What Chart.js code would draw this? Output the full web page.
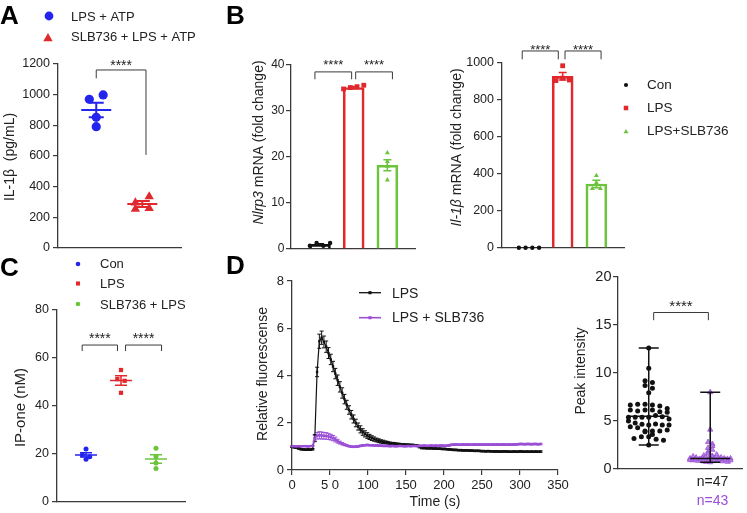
<!DOCTYPE html>
<html>
<head>
<meta charset="utf-8">
<title>SLB736 figure</title>
<script src="https://cdn.jsdelivr.net/npm/chart.js@4.4.1/dist/chart.umd.min.js"></script>
<style>
  html, body { margin: 0; padding: 0; background: #fff; }
  #fig { position: relative; width: 747px; height: 513px; overflow: hidden; background: #fff; }
  #fig canvas { position: absolute; left: 0; top: 0; }
  .tag { position: absolute; font: bold 26px/26px 'Liberation Sans', Arial, sans-serif; color: #000; }
</style>
</head>
<body>
<div id="fig">
  <canvas id="chartA" width="747" height="513"></canvas>
  <canvas id="chartB1" width="747" height="513"></canvas>
  <canvas id="chartB2" width="747" height="513"></canvas>
  <canvas id="chartC" width="747" height="513"></canvas>
  <canvas id="chartD1" width="747" height="513"></canvas>
  <canvas id="chartD2" width="747" height="513"></canvas>
  <div class="tag" style="left:0px;top:1.5px">A</div>
  <div class="tag" style="left:226px;top:1.5px">B</div>
  <div class="tag" style="left:0px;top:253.5px">C</div>
  <div class="tag" style="left:226px;top:251.5px">D</div>
</div>
<script>
// ---- A: IL-1β release (pg/mL)
const aGroups = ['LPS + ATP', 'SLB736 + LPS + ATP'];
const aLpsAtp = [970, 998, 852, 791];
const aSlbLpsAtp = [254, 295, 335, 259];
const aMean = [900, 287];
const aSem = [48, 19];

// ---- B: mRNA fold change
const bGroups = ['Con', 'LPS', 'LPS+SLB736'];
const nlrp3Con = [0.7, 1.3, 0.7, 1.3];
const nlrp3Lps = [34.8, 35.1, 35.3, 35.6];
const nlrp3Slb = [20.9, 19.0, 18.0, 15.0];
const nlrp3Mean = [1.0, 35.1, 18.2];
const nlrp3Sem = [0.15, 0.2, 1.2];
const il1bCon = [1, 1, 1, 1];
const il1bLps = [985, 905, 918, 908];
const il1bSlb = [391, 353, 321, 321];
const il1bMean = [1, 928, 346];
const il1bSem = [0, 20, 20];

// ---- C: IP-one (nM)
const cGroups = ['Con', 'LPS', 'SLB736 + LPS'];
const ipCon = [22.1, 19.6, 18.9, 17.8];
const ipLps = [55.0, 51.2, 50.5, 45.5];
const ipSlb = [22.4, 19.0, 16.3, 14.0];
const ipMean = [19.6, 50.6, 17.9];
const ipSem = [0.9, 2.0, 1.8];

// ---- D: calcium trace and peak intensity
const dSeries = ['LPS', 'LPS + SLB736'];
const dTime = [0, 3, 6, 9, 12, 15, 18, 21, 24, 27,
  30, 33, 36, 39, 42, 45, 48, 51, 54, 57,
  60, 63, 66, 69, 72, 75, 78, 81, 84, 87,
  90, 93, 96, 99, 102, 105, 108, 111, 114, 117,
  120, 123, 126, 129, 132, 135, 138, 141, 144, 147,
  150, 153, 156, 159, 162, 165, 168, 171, 174, 177,
  180, 183, 186, 189, 192, 195, 198, 201, 204, 207,
  210, 213, 216, 219, 222, 225, 228, 231, 234, 237,
  240, 243, 246, 249, 252, 255, 258, 261, 264, 267,
  270, 273, 276, 279, 282, 285, 288, 291, 294, 297,
  300, 303, 306, 309, 312, 315, 318, 321, 324, 327];
const dLps = [0.98, 0.96, 0.94, 0.91, 0.88, 0.87, 0.86, 0.87, 0.86, 0.88,
  1.35, 4.15, 5.45, 5.60, 5.42, 5.22, 4.95, 4.68, 4.38, 4.08,
  3.80, 3.52, 3.26, 3.00, 2.76, 2.54, 2.34, 2.16, 1.99, 1.84,
  1.72, 1.61, 1.53, 1.46, 1.40, 1.35, 1.31, 1.27, 1.24, 1.21,
  1.19, 1.17, 1.15, 1.13, 1.12, 1.11, 1.10, 1.10, 1.09, 1.08,
  1.07, 1.07, 1.06, 1.06, 1.05, 1.03, 0.97, 0.93, 0.93, 0.92,
  0.92, 0.92, 0.91, 0.91, 0.90, 0.90, 0.89, 0.89, 0.88, 0.87,
  0.86, 0.85, 0.85, 0.84, 0.84, 0.83, 0.83, 0.83, 0.82, 0.82,
  0.81, 0.81, 0.81, 0.80, 0.80, 0.79, 0.80, 0.79, 0.79, 0.78,
  0.79, 0.78, 0.78, 0.79, 0.78, 0.78, 0.77, 0.78, 0.78, 0.77,
  0.79, 0.78, 0.77, 0.78, 0.77, 0.78, 0.77, 0.78, 0.77, 0.78];
const dLpsSem = [0.03, 0.03, 0.03, 0.03, 0.03, 0.03, 0.03, 0.03, 0.03, 0.03,
  0.15, 0.20, 0.30, 0.28, 0.25, 0.24, 0.23, 0.22, 0.22, 0.22,
  0.22, 0.22, 0.22, 0.20, 0.19, 0.18, 0.18, 0.17, 0.16, 0.15,
  0.15, 0.14, 0.13, 0.12, 0.11, 0.10, 0.09, 0.08, 0.08, 0.07,
  0.07, 0.06, 0.06, 0.05, 0.05, 0.05, 0.04, 0.03, 0.03, 0.03,
  0.03, 0.03, 0.03, 0.03, 0.03, 0.03, 0.03, 0.03, 0.03, 0.03,
  0.03, 0.03, 0.03, 0.03, 0.03, 0.03, 0.03, 0.03, 0.03, 0.03,
  0.03, 0.03, 0.03, 0.03, 0.03, 0.03, 0.03, 0.03, 0.03, 0.03,
  0.03, 0.03, 0.03, 0.03, 0.03, 0.03, 0.03, 0.03, 0.03, 0.03,
  0.03, 0.03, 0.03, 0.03, 0.03, 0.03, 0.03, 0.03, 0.03, 0.03,
  0.03, 0.03, 0.03, 0.03, 0.03, 0.03, 0.03, 0.03, 0.03, 0.03];
const dSlb = [1.00, 1.01, 1.00, 1.01, 1.00, 1.01, 1.01, 1.00, 1.01, 1.02,
  1.36, 1.45, 1.47, 1.46, 1.45, 1.44, 1.42, 1.39, 1.35, 1.29,
  1.22, 1.16, 1.11, 1.07, 1.04, 1.01, 0.99, 0.98, 0.99, 1.00,
  1.02, 1.04, 1.05, 1.06, 1.05, 1.05, 1.04, 1.04, 1.03, 1.03,
  1.02, 1.02, 1.02, 1.01, 1.02, 1.01, 1.01, 1.02, 1.02, 1.01,
  1.01, 1.02, 1.01, 1.02, 1.02, 1.01, 1.02, 1.02, 1.03, 1.02,
  1.02, 1.03, 1.02, 1.03, 1.02, 1.03, 1.03, 1.02, 1.03, 1.04,
  1.07, 1.07, 1.08, 1.07, 1.07, 1.08, 1.07, 1.08, 1.07, 1.07,
  1.08, 1.07, 1.08, 1.07, 1.08, 1.07, 1.08, 1.07, 1.08, 1.07,
  1.08, 1.07, 1.08, 1.08, 1.07, 1.08, 1.07, 1.08, 1.08, 1.09,
  1.10, 1.10, 1.09, 1.10, 1.10, 1.09, 1.10, 1.10, 1.09, 1.10];
const dSlbSem = [0.02, 0.02, 0.02, 0.02, 0.02, 0.02, 0.02, 0.02, 0.02, 0.02,
  0.10, 0.14, 0.15, 0.15, 0.14, 0.14, 0.13, 0.12, 0.11, 0.10,
  0.08, 0.06, 0.05, 0.04, 0.03, 0.03, 0.03, 0.03, 0.03, 0.03,
  0.03, 0.03, 0.03, 0.03, 0.03, 0.03, 0.03, 0.03, 0.03, 0.03,
  0.03, 0.03, 0.03, 0.03, 0.03, 0.03, 0.03, 0.03, 0.03, 0.03,
  0.03, 0.03, 0.03, 0.03, 0.03, 0.03, 0.03, 0.03, 0.03, 0.03,
  0.03, 0.03, 0.03, 0.03, 0.03, 0.03, 0.03, 0.03, 0.03, 0.03,
  0.03, 0.03, 0.03, 0.03, 0.03, 0.03, 0.03, 0.03, 0.03, 0.03,
  0.03, 0.03, 0.03, 0.03, 0.03, 0.03, 0.03, 0.03, 0.03, 0.03,
  0.03, 0.03, 0.03, 0.03, 0.03, 0.03, 0.03, 0.03, 0.03, 0.03,
  0.03, 0.03, 0.03, 0.03, 0.03, 0.03, 0.03, 0.03, 0.03, 0.03];
const peakLps = [12.6, 10.5, 9.2, 9.0, 8.7, 8.4, 7.95,
  6.67, 6.74, 6.74, 6.67, 6.15, 6.56, 6.3,
  6.04, 6.15, 6.15, 5.97, 5.9,
  5.38, 5.38, 5.38, 5.38, 5.56, 5.45,
  5.2, 5.0, 4.8,
  4.65, 4.58, 4.69, 4.58, 4.58, 4.41,
  4.3, 3.96, 3.96, 3.89, 3.96, 4.06,
  3.6, 3.19, 3.37, 3.37, 3.09, 3.0, 2.5];
const peakSlb = [8.0, 4.1, 2.8, 2.6, 2.2, 2.4, 1.8, 2.0,
  1.4, 1.6, 1.35, 1.5,
  1.1, 1.3, 0.95, 1.2, 1.05, 1.15, 0.9, 1.25,
  1.0, 1.1, 0.85, 1.3, 1.0, 1.15, 0.8, 1.05,
  1.2, 0.75, 1.1, 0.95, 1.0, 1.05, 0.9, 1.1,
  0.7, 0.85, 1.0, 0.8, 0.95, 0.75, 0.9];
const peakMedian = [5.5, 1.1];
const peakMin = [2.5, 0.7];
const peakMax = [12.6, 8.0];
const peakN = ['n=47', 'n=43'];

// ---- look
const FAM = "'Liberation Sans', Arial, Helvetica, sans-serif";
const INK = '#222222';
const AXIS = '#3a3a3a';
const BLUE = '#2424ef';
const RED = '#e0282d';
const GREEN = '#6cc43c';
const BLACK = '#111111';
const PURPLE = '#9b4fd6';
const W = 747, H = 513;

Chart.defaults.font.family = FAM;
Chart.defaults.color = INK;
Chart.defaults.animation = false;
Chart.defaults.events = [];
Chart.defaults.plugins.legend.display = false;
Chart.defaults.plugins.tooltip.enabled = false;

// spreads tied values sideways, GraphPad style
function swarm(values, center, tol, step, maxHalf) {
  const order = values.map((v, i) => i).sort((a, b) => values[b] - values[a]);
  const rows = [];
  order.forEach(i => {
    const row = rows[rows.length - 1];
    if (row && values[row[0]] - values[i] < tol) row.push(i);
    else rows.push([i]);
  });
  const pts = [];
  rows.forEach(row => {
    row.sort((a, b) => a - b);
    const n = row.length;
    let s = step;
    if (maxHalf && n > 1) s = Math.min(step, 2 * maxHalf / (n - 1));
    row.forEach((i, k) => pts.push({ x: center + (k - (n - 1) / 2) * s, y: values[i] }));
  });
  return pts;
}

// chart area placed in page pixels; every canvas covers the whole figure
function frame(b) {
  return {
    layout: { padding: { left: b.l - b.yw, top: b.t, right: W - b.r, bottom: H - b.b - b.xh } },
    yFit: s => { s.width = b.yw; },
    xFit: s => { s.height = b.xh; s.paddingLeft = 0; s.paddingRight = 0; }
  };
}

function yAxis(min, max, step, fit, size, pad) {
  return {
    type: 'linear', min, max, afterFit: fit,
    ticks: { stepSize: step, padding: pad, color: INK, font: { size }, callback: v => String(v) },
    grid: { display: true, drawOnChartArea: false, drawTicks: true, tickLength: 5, color: AXIS, lineWidth: 1.2 },
    border: { display: true, color: AXIS, width: 1.3 }
  };
}

function xBare(min, max, fit) {
  return {
    type: 'linear', min, max, offset: false, afterFit: fit,
    ticks: { display: false },
    grid: { display: false },
    border: { display: true, color: AXIS, width: 1.3 }
  };
}

function mark(ctx, style, x, y, r, fill) {
  ctx.beginPath();
  if (style === 'rect') {
    const h = r * Math.SQRT1_2;
    ctx.rect(x - h, y - h, 2 * h, 2 * h);
  } else if (style === 'triangle') {
    ctx.moveTo(x, y - r);
    ctx.lineTo(x + r * 0.866, y + r * 0.5);
    ctx.lineTo(x - r * 0.866, y + r * 0.5);
    ctx.closePath();
  } else {
    ctx.arc(x, y, r, 0, Math.PI * 2);
  }
  ctx.fillStyle = fill;
  ctx.fill();
}

function drawParts(ctx, t) {
  ctx.save();
  ctx.translate(t.x, t.y);
  if (t.rot) ctx.rotate(-Math.PI / 2);
  const fonts = t.parts.map(p => (p[1] ? 'italic ' : '') + t.size + 'px ' + FAM);
  let total = 0;
  const widths = t.parts.map((p, i) => {
    ctx.font = fonts[i];
    const w = ctx.measureText(p[0]).width;
    total += w;
    return w;
  });
  let cx = t.align === 'left' ? 0 : -total / 2;
  ctx.textBaseline = 'middle';
  ctx.textAlign = 'left';
  ctx.fillStyle = t.color || INK;
  t.parts.forEach((p, i) => {
    ctx.font = fonts[i];
    ctx.fillText(p[0], cx, 0);
    cx += widths[i];
  });
  ctx.restore();
}

// error bars, mean/median lines, brackets, legends and titles
function deco(cfg) {
  return {
    id: 'deco',
    beforeDatasetsDraw(chart) {
      const ctx = chart.ctx, ys = chart.scales.y;
      (cfg.errors || []).forEach(e => {
        const pts = chart.getDatasetMeta(e.ds).data;
        const vals = chart.data.datasets[e.ds].data;
        ctx.save();
        ctx.strokeStyle = e.color;
        ctx.lineWidth = 1;
        ctx.beginPath();
        pts.forEach((p, i) => {
          const s = e.sem[i];
          if (!s) return;
          const y1 = ys.getPixelForValue(vals[i].y - s), y2 = ys.getPixelForValue(vals[i].y + s);
          ctx.moveTo(p.x, y1); ctx.lineTo(p.x, y2);
          ctx.moveTo(p.x - e.cap, y1); ctx.lineTo(p.x + e.cap, y1);
          ctx.moveTo(p.x - e.cap, y2); ctx.lineTo(p.x + e.cap, y2);
        });
        ctx.stroke();
        ctx.restore();
      });
    },
    afterDatasetsDraw(chart) {
      const ctx = chart.ctx;
      const px = v => chart.scales.x.getPixelForValue(v);
      const py = v => chart.scales.y.getPixelForValue(v);
      ctx.save();
      (cfg.stats || []).forEach(g => {
        const cx = px(g.x);
        ctx.strokeStyle = g.color;
        ctx.lineWidth = g.lw;
        ctx.beginPath();
        if (g.hw) { ctx.moveTo(cx - g.hw, py(g.mid)); ctx.lineTo(cx + g.hw, py(g.mid)); }
        if (g.hi > g.lo) {
          ctx.moveTo(cx, py(g.lo)); ctx.lineTo(cx, py(g.hi));
          ctx.moveTo(cx - g.cap, py(g.lo)); ctx.lineTo(cx + g.cap, py(g.lo));
          ctx.moveTo(cx - g.cap, py(g.hi)); ctx.lineTo(cx + g.cap, py(g.hi));
        }
        ctx.stroke();
      });
      (cfg.brackets || []).forEach(b => {
        ctx.strokeStyle = AXIS;
        ctx.lineWidth = 1;
        ctx.beginPath();
        ctx.moveTo(px(b.x1), py(b.y1));
        ctx.lineTo(px(b.x1), py(b.y));
        ctx.lineTo(px(b.x2), py(b.y));
        ctx.lineTo(px(b.x2), py(b.y2));
        ctx.stroke();
        ctx.fillStyle = INK;
        ctx.font = b.size + 'px ' + FAM;
        ctx.textAlign = 'center';
        ctx.textBaseline = 'alphabetic';
        ctx.fillText('****', (px(b.x1) + px(b.x2)) / 2, py(b.sy) + 0.56 * b.size);
      });
      (cfg.legend || []).forEach(l => {
        if (l.line) {
          ctx.strokeStyle = l.color;
          ctx.lineWidth = l.lw;
          ctx.beginPath();
          ctx.moveTo(l.line[0], l.y); ctx.lineTo(l.line[1], l.y);
          ctx.stroke();
        }
        mark(ctx, l.style, l.x, l.y, l.r, l.color);
        drawParts(ctx, { x: l.tx, y: l.ty, parts: [[l.text]], size: l.size, align: 'left' });
      });
      (cfg.titles || []).forEach(t => drawParts(ctx, t));
      ctx.restore();
    }
  };
}

function pointSet(pts, style, r, fill, order) {
  return { type: 'scatter', data: pts, pointStyle: style, pointRadius: r, backgroundColor: fill,
           borderColor: fill, borderWidth: 0, clip: false, order: order || 1 };
}

// ---------------- A
const fA = frame({ l: 58, t: 64, r: 181, b: 248, yw: 50, xh: 6 });
const aColors = [BLUE, RED];
new Chart(document.getElementById('chartA'), {
  type: 'scatter',
  data: { datasets: [
    pointSet(swarm(aLpsAtp, 1, 45, 0.3), 'circle', 4.6, BLUE),
    pointSet(swarm(aSlbLpsAtp, 2, 45, 0.3), 'triangle', 5.4, RED)
  ] },
  options: {
    responsive: false, layout: fA.layout,
    scales: { x: xBare(0.17, 2.84, fA.xFit), y: yAxis(0, 1200, 200, fA.yFit, 12.5, 3) }
  },
  plugins: [deco({
    stats: aGroups.map((g, i) => ({ x: i + 1, mid: aMean[i], lo: aMean[i] - aSem[i], hi: aMean[i] + aSem[i],
                                    color: aColors[i], hw: 15, cap: 7.5, lw: 2 })),
    brackets: [{ x1: 1, x2: 2.08, y: 1161, y1: 1107, y2: 607, sy: 1213, size: 14 }],
    legend: [
      { style: 'circle', x: 49, y: 16, r: 4.4, color: BLUE, text: aGroups[0], tx: 71, ty: 17.6, size: 13 },
      { style: 'triangle', x: 48, y: 38.5, r: 5.4, color: RED, text: aGroups[1], tx: 71, ty: 37.8, size: 13 }
    ],
    titles: [{ x: 10, y: 157, rot: true, size: 14, parts: [['IL-1β  (pg/mL)']] }]
  })]
});

// ---------------- B (left: Nlrp3)
const bColors = [BLACK, RED, GREEN];
const bStyles = ['circle', 'rect', 'triangle'];
const fB1 = frame({ l: 291, t: 65, r: 415, b: 249, yw: 30, xh: 6 });
new Chart(document.getElementById('chartB1'), {
  type: 'bar',
  data: { datasets: [
    { type: 'bar', data: bGroups.map((g, i) => ({ x: i + 1, y: nlrp3Mean[i] })), backgroundColor: 'rgba(255,255,255,0)',
      borderColor: bColors, borderWidth: 2, barThickness: 21, order: 3 },
    pointSet(swarm(nlrp3Con, 1, 0.9, 0.2), 'circle', 2.2, BLACK),
    pointSet(swarm(nlrp3Lps, 2, 0.9, 0.2), 'rect', 3.4, RED),
    pointSet(swarm(nlrp3Slb, 3, 0.9, 0.2), 'triangle', 2.9, GREEN)
  ] },
  options: {
    responsive: false, layout: fB1.layout,
    scales: { x: xBare(0.14, 3.82, fB1.xFit), y: yAxis(0, 40, 10, fB1.yFit, 12, 1.5) }
  },
  plugins: [deco({
    stats: bGroups.map((g, i) => ({ x: i + 1, mid: nlrp3Mean[i], lo: nlrp3Mean[i] - nlrp3Sem[i], hi: nlrp3Mean[i] + nlrp3Sem[i],
                                    color: bColors[i], hw: 0, cap: 4, lw: 1.5 })),
    brackets: [
      { x1: 0.85, x2: 1.94, y: 38.5, y1: 36.9, y2: 36.9, sy: 40.7, size: 13 },
      { x1: 2.06, x2: 3.15, y: 38.5, y1: 36.9, y2: 36.9, sy: 40.7, size: 13 }
    ],
    titles: [{ x: 259, y: 142.5, rot: true, size: 14, parts: [['Nlrp3', true], [' mRNA (fold change)', false]] }]
  })]
});

// ---------------- B (right: Il-1β)
const fB2 = frame({ l: 502, t: 63, r: 624, b: 248, yw: 40, xh: 6 });
new Chart(document.getElementById('chartB2'), {
  type: 'bar',
  data: { datasets: [
    { type: 'bar', data: bGroups.map((g, i) => ({ x: i + 1, y: il1bMean[i] })), backgroundColor: 'rgba(255,255,255,0)',
      borderColor: bColors, borderWidth: 2, barThickness: 21, order: 3 },
    pointSet(swarm(il1bCon, 1, 27, 0.2), 'circle', 2.2, BLACK),
    pointSet(swarm(il1bLps, 2, 27, 0.2), 'rect', 3.4, RED),
    pointSet(swarm(il1bSlb, 3, 27, 0.24), 'triangle', 2.9, GREEN)
  ] },
  options: {
    responsive: false, layout: fB2.layout,
    scales: { x: xBare(0.2, 3.82, fB2.xFit), y: yAxis(0, 1000, 200, fB2.yFit, 12.5, 3) }
  },
  plugins: [deco({
    stats: bGroups.map((g, i) => ({ x: i + 1, mid: il1bMean[i], lo: il1bMean[i] - il1bSem[i], hi: il1bMean[i] + il1bSem[i],
                                    color: bColors[i], hw: 0, cap: 4, lw: 1.5 })),
    brackets: [
      { x1: 0.80, x2: 1.87, y: 1065, y1: 1020, y2: 1020, sy: 1088, size: 13 },
      { x1: 2.07, x2: 3.14, y: 1065, y1: 1020, y2: 1020, sy: 1088, size: 13 }
    ],
    legend: bGroups.map((g, i) => ({ style: bStyles[i], x: 626, y: [85, 108, 131.8][i], r: [2.1, 3.2, 2.9][i], color: bColors[i],
                                     text: g, tx: 647, ty: [85.3, 108.3, 131.3][i], size: 13.5 })),
    titles: [{ x: 457, y: 147.5, rot: true, size: 14, parts: [['Il-1β', true], [' mRNA (fold change)', false]] }]
  })]
});

// ---------------- C
const cColors = [BLUE, RED, GREEN];
const cStyles = ['circle', 'rect', 'circle'];
const fC = frame({ l: 57, t: 310, r: 185, b: 502, yw: 45, xh: 6 });
new Chart(document.getElementById('chartC'), {
  type: 'scatter',
  data: { datasets: [
    pointSet(swarm(ipCon, 1, 1.5, 0.21), 'circle', 2.5, BLUE),
    pointSet(swarm(ipLps, 2, 1.5, 0.21), 'rect', 3.0, RED),
    pointSet(swarm(ipSlb, 3, 1.5, 0.21), 'circle', 2.5, GREEN)
  ] },
  options: {
    responsive: false, layout: fC.layout,
    scales: { x: xBare(0.17, 3.83, fC.xFit), y: yAxis(0, 80, 20, fC.yFit, 12.5, 3) }
  },
  plugins: [deco({
    stats: cGroups.map((g, i) => ({ x: i + 1, mid: ipMean[i], lo: ipMean[i] - ipSem[i], hi: ipMean[i] + ipSem[i],
                                    color: cColors[i], hw: 11, cap: 6, lw: 1.5 })),
    brackets: [
      { x1: 0.89, x2: 1.90, y: 65.4, y1: 62.9, y2: 62.9, sy: 69.4, size: 14 },
      { x1: 2.13, x2: 3.16, y: 65.4, y1: 62.9, y2: 62.9, sy: 69.4, size: 14 }
    ],
    legend: cGroups.map((g, i) => ({ style: cStyles[i], x: 78, y: [264, 283.5, 304][i], r: [2.3, 2.9, 2.3][i], color: cColors[i],
                                     text: g, tx: 100, ty: [264.7, 284.7, 305][i], size: 13 })),
    titles: [{ x: 21, y: 407.5, rot: true, size: 15, parts: [['IP-one (nM)']] }]
  })]
});

// ---------------- D (left: time course)
const fD1 = frame({ l: 292, t: 281, r: 558, b: 470, yw: 35, xh: 40 });
new Chart(document.getElementById('chartD1'), {
  type: 'line',
  data: { datasets: [
    { label: dSeries[0], data: dTime.map((t, i) => ({ x: t, y: dLps[i] })), borderColor: BLACK, backgroundColor: BLACK,
      borderWidth: 1.2, pointRadius: 1.7, pointStyle: 'rect', pointBorderWidth: 0, order: 2 },
    { label: dSeries[1], data: dTime.map((t, i) => ({ x: t, y: dSlb[i] })), borderColor: PURPLE, backgroundColor: PURPLE,
      borderWidth: 1.6, pointRadius: 1.7, pointStyle: 'rect', pointBorderWidth: 0, order: 1 }
  ] },
  options: {
    responsive: false, layout: fD1.layout,
    scales: {
      x: {
        type: 'linear', min: 0, max: 350, afterFit: fD1.xFit,
        ticks: { stepSize: 50, padding: 3, color: INK, font: { size: 13 }, maxRotation: 0, autoSkip: false,
                 callback: v => (v === 50 ? '5 0' : String(v)) },
        grid: { display: true, drawOnChartArea: false, drawTicks: true, tickLength: 5, color: AXIS, lineWidth: 1.2 },
        border: { display: true, color: AXIS, width: 1.3 }
      },
      y: yAxis(0, 8, 2, fD1.yFit, 13, 3)
    }
  },
  plugins: [deco({
    errors: [
      { ds: 0, sem: dLpsSem, color: BLACK, cap: 2 },
      { ds: 1, sem: dSlbSem, color: PURPLE, cap: 2 }
    ],
    legend: [
      { style: 'rect', x: 370, y: 292.7, r: 2.2, color: BLACK, line: [359, 381], lw: 1.3, text: dSeries[0], tx: 392, ty: 293.8, size: 14 },
      { style: 'rect', x: 370, y: 317.7, r: 2.2, color: PURPLE, line: [359, 381], lw: 1.6, text: dSeries[1], tx: 392, ty: 318.3, size: 14 }
    ],
    titles: [
      { x: 263, y: 374, rot: true, size: 14, parts: [['Relative fluorescense']] },
      { x: 435, y: 502.4, size: 14, parts: [['Time (s)']] }
    ]
  })]
});

// ---------------- D (right: peak intensity)
const fD2 = frame({ l: 618, t: 277, r: 747, b: 469, yw: 35, xh: 6 });
new Chart(document.getElementById('chartD2'), {
  type: 'scatter',
  data: { datasets: [
    pointSet(swarm(peakLps, 1, 0.5, 0.12, 0.33), 'circle', 2.5, BLACK),
    { type: 'scatter', data: swarm(peakSlb, 2, 0.3, 0.07, 0.33), pointStyle: 'triangle', pointRadius: 3,
      backgroundColor: 'rgba(176,120,230,0.9)', borderColor: PURPLE, borderWidth: 0.8, clip: false }
  ] },
  options: {
    responsive: false, layout: fD2.layout,
    scales: { x: xBare(0.5, 2.52, fD2.xFit), y: yAxis(0, 20, 5, fD2.yFit, 14.5, 1.5) }
  },
  plugins: [deco({
    stats: peakMedian.map((m, i) => ({ x: i + 1, mid: m, lo: peakMin[i], hi: peakMax[i], color: BLACK, hw: 20, cap: 10, lw: 1.5 })),
    brackets: [{ x1: 1.08, x2: 1.97, y: 16.3, y1: 15.5, y2: 15.5, sy: 17.3, size: 15 }],
    titles: [
      { x: 581, y: 371, rot: true, size: 14, parts: [['Peak intensity']] },
      { x: 712.5, y: 482.5, size: 14, parts: [[peakN[0]]] },
      { x: 712.5, y: 500.7, size: 14, color: PURPLE, parts: [[peakN[1]]] }
    ]
  })]
});
</script>
</body>
</html>
